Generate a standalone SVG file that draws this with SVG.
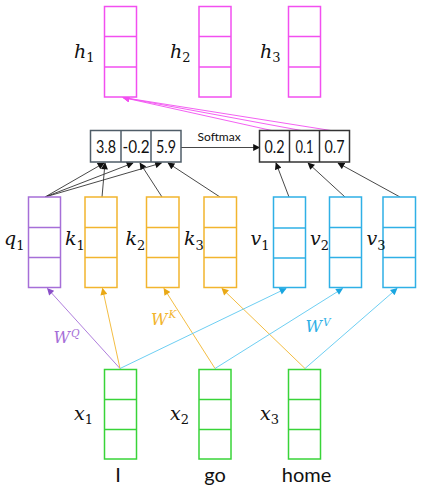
<svg xmlns="http://www.w3.org/2000/svg" width="430" height="495" viewBox="0 0 430 495">
<style>
.cell{fill:#fff;stroke-width:1.5}
.pk{stroke:#f24ff0}.pu{stroke:#a66fd8}.or{stroke:#f2b52e}.bl{stroke:#2fb0e6}.gr{stroke:#38d438}
.math{font-family:"DejaVu Serif","Liberation Serif",serif;font-style:italic;font-size:19px;fill:#111}
.sub{font-size:13px;font-style:normal}
.sup{font-size:10.5px}
.num{font-family:Lato,"Open Sans",sans-serif;font-size:18px;fill:#111;text-anchor:middle}
.word{font-family:Lato,"Open Sans",sans-serif;font-size:20px;fill:#111;text-anchor:middle}
.sm{font-family:Lato,"Open Sans",sans-serif;font-size:12px;fill:#111}
.wl{font-family:"DejaVu Serif","Liberation Serif",serif;font-style:italic;font-size:16px}
.ln{fill:none;stroke-width:0.9}
</style>
<defs>
<marker id="ak" viewBox="0 0 10 10" refX="9" refY="5" markerWidth="8" markerHeight="7" markerUnits="userSpaceOnUse" orient="auto"><path d="M0,0L10,5L0,10z" fill="#111"/></marker>
<marker id="apk" viewBox="0 0 10 10" refX="9" refY="5" markerWidth="9" markerHeight="7" markerUnits="userSpaceOnUse" orient="auto"><path d="M0,0L10,5L0,10z" fill="#f24ff0"/></marker>
<marker id="apu" viewBox="0 0 10 10" refX="9" refY="5" markerWidth="8" markerHeight="7" markerUnits="userSpaceOnUse" orient="auto"><path d="M0,0L10,5L0,10z" fill="#8a4fc8"/></marker>
<marker id="aor" viewBox="0 0 10 10" refX="9" refY="5" markerWidth="8" markerHeight="7" markerUnits="userSpaceOnUse" orient="auto"><path d="M0,0L10,5L0,10z" fill="#e9a815"/></marker>
<marker id="abl" viewBox="0 0 10 10" refX="9" refY="5" markerWidth="8" markerHeight="7" markerUnits="userSpaceOnUse" orient="auto"><path d="M0,0L10,5L0,10z" fill="#1aa6e0"/></marker>
</defs>

<g id="connectors">
  <g stroke="#f24ff0" class="ln">
    <line x1="274" y1="131" x2="123" y2="97.5" marker-end="url(#apk)"/>
    <line x1="304" y1="131" x2="123" y2="97.5" marker-end="url(#apk)"/>
    <line x1="334" y1="131" x2="123" y2="97.5" marker-end="url(#apk)"/>
  </g>
  <line x1="181" y1="147.5" x2="259.5" y2="147.5" stroke="#333" class="ln" marker-end="url(#ak)"/>
  <g stroke="#333" class="ln">
    <line x1="45" y1="197" x2="104" y2="163" marker-end="url(#ak)"/>
    <line x1="45" y1="197" x2="133" y2="163" marker-end="url(#ak)"/>
    <line x1="45" y1="197" x2="161.5" y2="163" marker-end="url(#ak)"/>
    <line x1="102" y1="197" x2="105" y2="163" marker-end="url(#ak)"/>
    <line x1="162" y1="197" x2="140" y2="163" marker-end="url(#ak)"/>
    <line x1="220" y1="197" x2="168" y2="163" marker-end="url(#ak)"/>
    <line x1="289" y1="197" x2="276" y2="163" marker-end="url(#ak)"/>
    <line x1="345" y1="197" x2="308" y2="163" marker-end="url(#ak)"/>
    <line x1="400" y1="197" x2="338" y2="163" marker-end="url(#ak)"/>
  </g>
  <line x1="120" y1="368.5" x2="47.5" y2="288.5" stroke="#a66fd8" class="ln" marker-end="url(#apu)"/>
  <g stroke="#f2b52e" class="ln">
    <line x1="120" y1="368.5" x2="102.5" y2="288.5" marker-end="url(#aor)"/>
    <line x1="215" y1="368.5" x2="164" y2="288.5" marker-end="url(#aor)"/>
    <line x1="305" y1="368.5" x2="222" y2="288.5" marker-end="url(#aor)"/>
  </g>
  <g stroke="#5cc8f0" class="ln">
    <line x1="120" y1="368.5" x2="286" y2="288.5" marker-end="url(#abl)"/>
    <line x1="215" y1="368.5" x2="342.5" y2="288.5" marker-end="url(#abl)"/>
    <line x1="305" y1="368.5" x2="397" y2="288.5" marker-end="url(#abl)"/>
  </g>
</g>

<g id="h1"><rect class="cell pk" x="104.5" y="6.5" width="32" height="90.5"/><line class="pk" x1="104.5" y1="36.5" x2="136.5" y2="36.5" stroke-width="1.5"/><line class="pk" x1="104.5" y1="67" x2="136.5" y2="67" stroke-width="1.5"/><text class="math" x="74" y="57.5">h<tspan class="sub" dy="4.5">1</tspan></text></g>
<g id="h2"><rect class="cell pk" x="199" y="6.5" width="32" height="90.5"/><line class="pk" x1="199" y1="36.5" x2="231" y2="36.5" stroke-width="1.5"/><line class="pk" x1="199" y1="67" x2="231" y2="67" stroke-width="1.5"/><text class="math" x="170" y="57.5">h<tspan class="sub" dy="4.5">2</tspan></text></g>
<g id="h3"><rect class="cell pk" x="288.5" y="6.5" width="32" height="90.5"/><line class="pk" x1="288.5" y1="36.5" x2="320.5" y2="36.5" stroke-width="1.5"/><line class="pk" x1="288.5" y1="67" x2="320.5" y2="67" stroke-width="1.5"/><text class="math" x="260" y="57.5">h<tspan class="sub" dy="4.5">3</tspan></text></g>

<g id="scores">
  <rect x="90.5" y="130.5" width="90.5" height="31.5" fill="#fff" stroke="#4f5d68" stroke-width="1.5"/>
  <line x1="121" y1="130.5" x2="121" y2="162" stroke="#4f5d68" stroke-width="1.5"/>
  <line x1="151" y1="130.5" x2="151" y2="162" stroke="#4f5d68" stroke-width="1.5"/>
  <text class="num" x="106" y="152.5" textLength="20" lengthAdjust="spacingAndGlyphs">3.8</text>
  <text class="num" x="136" y="152.5" textLength="27" lengthAdjust="spacingAndGlyphs">-0.2</text>
  <text class="num" x="166" y="152.5" textLength="20" lengthAdjust="spacingAndGlyphs">5.9</text>
</g>
<text class="sm" x="197.5" y="141">Softmax</text>
<g id="weights">
  <rect x="259.5" y="130.5" width="90" height="31.5" fill="#fff" stroke="#333" stroke-width="1.5"/>
  <line x1="289.5" y1="130.5" x2="289.5" y2="162" stroke="#333" stroke-width="1.5"/>
  <line x1="319.5" y1="130.5" x2="319.5" y2="162" stroke="#333" stroke-width="1.5"/>
  <text class="num" x="274.5" y="152.5" textLength="20" lengthAdjust="spacingAndGlyphs">0.2</text>
  <text class="num" x="304.5" y="152.5" textLength="18" lengthAdjust="spacingAndGlyphs">0.1</text>
  <text class="num" x="334.5" y="152.5" textLength="20" lengthAdjust="spacingAndGlyphs">0.7</text>
</g>

<g id="q1"><rect class="cell pu" x="28.5" y="197" width="32" height="90.5"/><line class="pu" x1="28.5" y1="227.5" x2="60.5" y2="227.5" stroke-width="1.5"/><line class="pu" x1="28.5" y1="257.5" x2="60.5" y2="257.5" stroke-width="1.5"/><text class="math" x="4" y="245">q<tspan class="sub" dy="4.5">1</tspan></text></g>
<g id="k1"><rect class="cell or" x="85" y="197" width="32" height="90.5"/><line class="or" x1="85" y1="227.5" x2="117" y2="227.5" stroke-width="1.5"/><line class="or" x1="85" y1="257.5" x2="117" y2="257.5" stroke-width="1.5"/><text class="math" x="65" y="245">k<tspan class="sub" dy="4.5">1</tspan></text></g>
<g id="k2"><rect class="cell or" x="146.5" y="197" width="32.5" height="90.5"/><line class="or" x1="146.5" y1="227.5" x2="179" y2="227.5" stroke-width="1.5"/><line class="or" x1="146.5" y1="257.5" x2="179" y2="257.5" stroke-width="1.5"/><text class="math" x="125.5" y="245">k<tspan class="sub" dy="4.5">2</tspan></text></g>
<g id="k3"><rect class="cell or" x="204" y="197" width="32.5" height="90.5"/><line class="or" x1="204" y1="227.5" x2="236.5" y2="227.5" stroke-width="1.5"/><line class="or" x1="204" y1="257.5" x2="236.5" y2="257.5" stroke-width="1.5"/><text class="math" x="184" y="245">k<tspan class="sub" dy="4.5">3</tspan></text></g>
<g id="v1"><rect class="cell bl" x="273.5" y="197" width="32" height="90.5"/><line class="bl" x1="273.5" y1="228" x2="305.5" y2="228" stroke-width="1.5"/><line class="bl" x1="273.5" y1="258" x2="305.5" y2="258" stroke-width="1.5"/><text class="math" x="250.5" y="245">v<tspan class="sub" dy="4.5">1</tspan></text></g>
<g id="v2"><rect class="cell bl" x="329.5" y="197" width="32" height="90.5"/><line class="bl" x1="329.5" y1="227.5" x2="361.5" y2="227.5" stroke-width="1.5"/><line class="bl" x1="329.5" y1="257.5" x2="361.5" y2="257.5" stroke-width="1.5"/><text class="math" x="310" y="245">v<tspan class="sub" dy="4.5">2</tspan></text></g>
<g id="v3"><rect class="cell bl" x="383" y="197" width="32.5" height="90.5"/><line class="bl" x1="383" y1="227.5" x2="415.5" y2="227.5" stroke-width="1.5"/><line class="bl" x1="383" y1="257.5" x2="415.5" y2="257.5" stroke-width="1.5"/><text class="math" x="366.5" y="245">v<tspan class="sub" dy="4.5">3</tspan></text></g>

<text class="wl" x="53.5" y="343.3" fill="#a66fd8">W<tspan class="sup" dx="1" dy="-6.5">Q</tspan></text>
<text class="wl" x="151" y="324.5" fill="#f2b52e">W<tspan class="sup" dx="1" dy="-6.5">K</tspan></text>
<text class="wl" x="305.5" y="332" fill="#2fb0e6">W<tspan class="sup" dx="1" dy="-6.5">V</tspan></text>

<g id="x1"><rect class="cell gr" x="104.5" y="369.5" width="32" height="89.5"/><line class="gr" x1="104.5" y1="399.5" x2="136.5" y2="399.5" stroke-width="1.5"/><line class="gr" x1="104.5" y1="429.5" x2="136.5" y2="429.5" stroke-width="1.5"/><text class="math" x="74" y="419.5">x<tspan class="sub" dy="4.5">1</tspan></text><text class="word" x="118" y="482">I</text></g>
<g id="x2"><rect class="cell gr" x="199" y="369.5" width="32" height="89.5"/><line class="gr" x1="199" y1="399.5" x2="231" y2="399.5" stroke-width="1.5"/><line class="gr" x1="199" y1="429.5" x2="231" y2="429.5" stroke-width="1.5"/><text class="math" x="170" y="419.5">x<tspan class="sub" dy="4.5">2</tspan></text><text class="word" x="215" y="482">go</text></g>
<g id="x3"><rect class="cell gr" x="288.5" y="369.5" width="32" height="89.5"/><line class="gr" x1="288.5" y1="399.5" x2="320.5" y2="399.5" stroke-width="1.5"/><line class="gr" x1="288.5" y1="429.5" x2="320.5" y2="429.5" stroke-width="1.5"/><text class="math" x="260" y="419.5">x<tspan class="sub" dy="4.5">3</tspan></text><text class="word" x="306.5" y="482">home</text></g>
</svg>
